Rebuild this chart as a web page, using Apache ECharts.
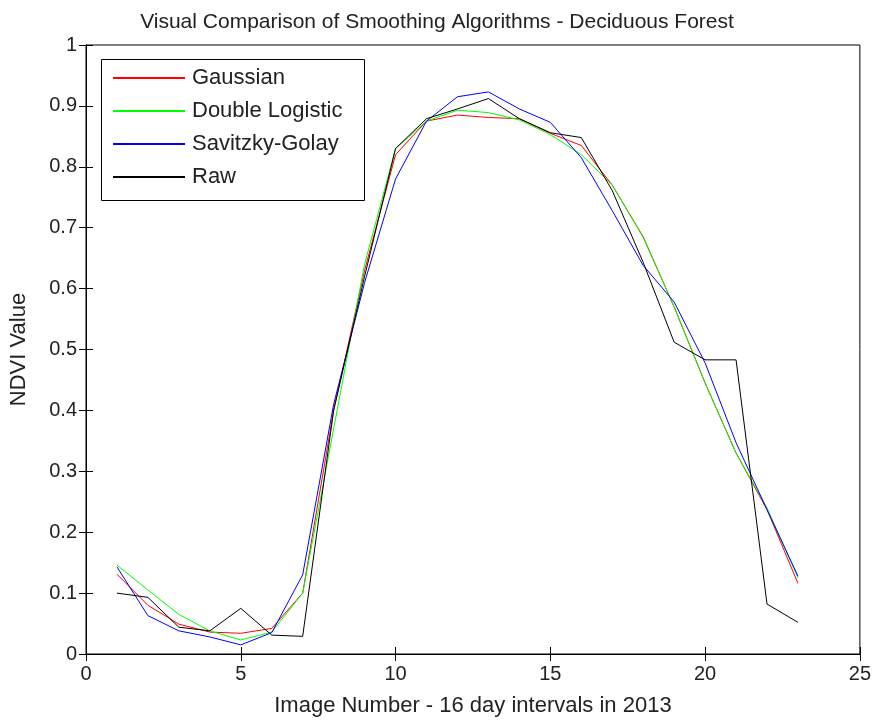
<!DOCTYPE html>
<html>
<head>
<meta charset="UTF-8">
<title>Visual Comparison of Smoothing Algorithms</title>
<script src="https://cdn.jsdelivr.net/npm/echarts@6/dist/echarts.min.js"></script>
<style>
  html, body { margin: 0; padding: 0; background: #fff; }
  #main { width: 874px; height: 726px; }
</style>
</head>
<body>
<div id="main"></div>
<script>
// image numbers 1..23
var imageNo = [1, 2, 3, 4, 5, 6, 7, 8, 9, 10, 11, 12, 13, 14, 15, 16, 17, 18, 19, 20, 21, 22, 23];

var gaussian = [0.131, 0.080, 0.049, 0.036, 0.034, 0.042, 0.100, 0.400, 0.630, 0.820, 0.875, 0.885, 0.881, 0.879, 0.855, 0.835, 0.770, 0.685, 0.570, 0.445, 0.330, 0.237, 0.116];
var doubleLogistic = [0.146, 0.105, 0.065, 0.038, 0.023, 0.036, 0.100, 0.370, 0.640, 0.830, 0.875, 0.893, 0.889, 0.877, 0.853, 0.820, 0.770, 0.684, 0.570, 0.445, 0.330, 0.240, 0.125];
var savitzkyGolay = [0.143, 0.063, 0.038, 0.028, 0.015, 0.035, 0.130, 0.410, 0.610, 0.780, 0.875, 0.915, 0.923, 0.895, 0.873, 0.815, 0.728, 0.638, 0.578, 0.478, 0.347, 0.237, 0.128];
var raw = [0.100, 0.093, 0.044, 0.038, 0.075, 0.031, 0.029, 0.400, 0.620, 0.830, 0.879, 0.895, 0.912, 0.879, 0.856, 0.848, 0.761, 0.643, 0.512, 0.483, 0.483, 0.082, 0.052];

function pairs(ys) {
    return imageNo.map(function (x, i) { return [x, ys[i]]; });
}

var font = 'Liberation Sans, Arial, sans-serif';
var chart = echarts.init(document.getElementById('main'));

function lineSeries(name, color, ys) {
    return {
        name: name,
        type: 'line',
        data: pairs(ys),
        showSymbol: false,
        symbol: 'none',
        animation: false,
        lineStyle: { color: color, width: 1 },
        itemStyle: { color: color }
    };
}

var xBase = {
    type: 'value', min: 0, max: 25, interval: 5,
    axisLine: { show: true, lineStyle: { color: '#000' } },
    axisTick: { show: true, inside: true, length: 7, lineStyle: { color: '#000' } },
    splitLine: { show: false }
};
var yBase = {
    type: 'value', min: 0, max: 1, interval: 0.1,
    axisLine: { show: true, lineStyle: { color: '#000' } },
    axisTick: { show: true, inside: true, length: 7, lineStyle: { color: '#000' } },
    splitLine: { show: false }
};

chart.setOption({
    backgroundColor: '#fff',
    title: {
        text: 'Visual Comparison of Smoothing Algorithms - Deciduous Forest',
        left: 'center', top: 7,
        textStyle: { fontFamily: font, fontSize: 21, fontWeight: 'normal', color: '#222' }
    },
    grid: { left: 86, right: 14, top: 45, bottom: 72, show: true, borderColor: '#000', borderWidth: 1 },
    legend: {
        orient: 'vertical', left: 108, top: 62,
        itemWidth: 72, itemHeight: 2, itemGap: 11,
        icon: 'rect',
        textStyle: { fontFamily: font, fontSize: 22, color: '#222', padding: [0, 0, 0, 2] },
        data: ['Gaussian', 'Double Logistic', 'Savitzky-Golay', 'Raw']
    },
    graphic: [{
        type: 'rect', left: 99, top: 57, z: 100,
        shape: { width: 263, height: 141 },
        style: { fill: 'none', stroke: '#000', lineWidth: 1 }
    }],
    xAxis: [
        Object.assign({}, xBase, {
            name: 'Image Number - 16 day intervals in 2013',
            nameLocation: 'middle', nameGap: 41,
            nameTextStyle: { fontFamily: font, fontSize: 22, color: '#222' },
            axisLabel: { fontFamily: font, fontSize: 20, color: '#222', margin: 10 }
        }),
        Object.assign({}, xBase, { position: 'top', axisLabel: { show: false } })
    ],
    yAxis: [
        Object.assign({}, yBase, {
            name: 'NDVI Value',
            nameLocation: 'middle', nameGap: 56,
            nameTextStyle: { fontFamily: font, fontSize: 22, color: '#222' },
            axisLabel: { fontFamily: font, fontSize: 20, color: '#222', margin: 9 }
        }),
        Object.assign({}, yBase, { position: 'right', axisLabel: { show: false } })
    ],
    series: [
        lineSeries('Gaussian', '#ff0000', gaussian),
        lineSeries('Double Logistic', '#00ff00', doubleLogistic),
        lineSeries('Savitzky-Golay', '#0000ff', savitzkyGolay),
        lineSeries('Raw', '#000000', raw)
    ]
});
</script>
</body>
</html>
